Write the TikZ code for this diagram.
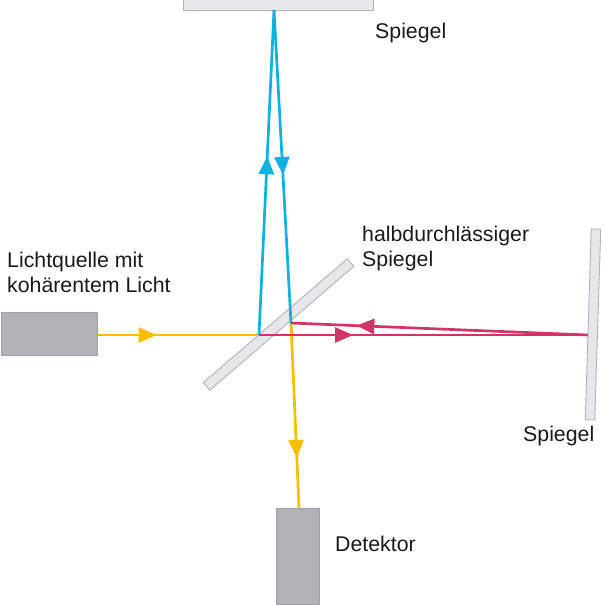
\documentclass[tikz,border=0pt]{standalone}
\usepackage{fontspec}
\setmainfont{Liberation Sans}
\usetikzlibrary{arrows.meta,decorations.markings}
\definecolor{beamyellow}{HTML}{F9BE00}
\definecolor{beamblue}{HTML}{0EB1E0}
\definecolor{beamred}{HTML}{D03568}
\definecolor{boxgrey}{HTML}{B1B3B6}
\definecolor{mirrorgrey}{HTML}{E6E7E8}
\tikzset{
    box/.style={draw=boxgrey!90!black,fill=boxgrey,line width=0.6pt,inner sep=0pt},
    mirror/.style={draw=boxgrey,fill=mirrorgrey,line width=0.9pt,inner sep=0pt},
    label/.style={font=\fontsize{21.3}{25}\selectfont,text=black!90,align=left,anchor=west,inner sep=0pt},
    beam/.style={line width=2.7pt,color=#1},
    tipat/.style={postaction={decorate},decoration={markings,mark=at position #1 with {\arrow{Triangle[length=18pt,width=15pt]}}}}
}

\begin{document}
\begin{tikzpicture}[x=1pt,y=-1pt]
    \useasboundingbox (0,0) rectangle (605,605);
    \node[box, minimum width=96pt, minimum height=43pt] (source) at (49.5,333.5) {};
    \node[box, minimum width=43pt, minimum height=96pt] (detector) at (298,556) {};
    \node[mirror, minimum width=190pt, minimum height=10.5pt] (mirror_top) at (278,4.8) {};
    \node[mirror, minimum width=9.5pt, minimum height=191pt, rotate=-1.8] (mirror_right) at (593,324.5) {};
    \node[mirror, minimum width=190pt, minimum height=10pt, rotate=40.7] (splitter) at (278.5,324.5) {};
    \coordinate (split_in) at (259,335);
    \coordinate (split_out) at (291,323);
    \coordinate (hit_top) at (274,10);
    \coordinate (hit_right) at (588,335);
    \coordinate (det_in) at (299,508);
    % beams
    \draw[beam=beamyellow, tipat=0.365] (source.east |- split_in) -- (split_in);
    \draw[beam=beamyellow, tipat=0.73] (split_out) -- (det_in);
    \draw[beam=beamblue, tipat=0.55] (split_in) -- (hit_top);
    \draw[beam=beamblue, tipat=0.527] (hit_top) -- (split_out);
    \draw[beam=beamred, tipat=0.286] (split_in) -- (hit_right);
    \draw[beam=beamred, tipat=0.78] (hit_right) -- (split_out);
    % labels
    \node[label] (label_top) at (375,32.5) {Spiegel};
    \node[label] (label_split) at (362,248) {halbdurchlässiger\\Spiegel};
    \node[label] (label_source) at (7,272) {Lichtquelle mit\\kohärentem Licht};
    \node[label] (label_right) at (523,436) {Spiegel};
    \node[label] (label_detector) at (335,544) {Detektor};
\end{tikzpicture}
\end{document}
